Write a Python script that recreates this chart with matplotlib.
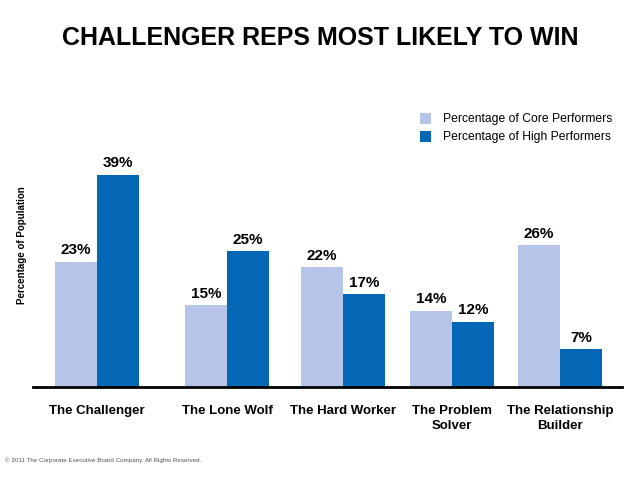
import matplotlib.pyplot as plt
import numpy as np

plt.rcParams['font.family'] = ['Liberation Sans', 'DejaVu Sans']

categories = ['The Challenger', 'The Lone Wolf', 'The Hard Worker', 'The Problem\nSolver', 'The Relationship\nBuilder']
core = [23, 15, 22, 14, 26]
high = [39, 25, 17, 12, 7]

# group centres (pixel-like x units), bar width
centres = [97, 227, 343, 452, 560]
W = 42
LIGHT = '#B6C5E7'
DARK = '#0367B6'

fig = plt.figure(figsize=(6.38, 4.79), dpi=100)
ax = fig.add_axes([33/638, 92/479, 589/638, 245/479])

x = np.array(centres)
ax.bar(x - W/2, core, width=W, color=LIGHT, label='Percentage of Core Performers')
ax.bar(x + W/2, high, width=W, color=DARK, label='Percentage of High Performers')

for xi, c, h in zip(x, core, high):
    ax.text(xi - W/2, c + 0.8, '%d%%' % c, ha='center', va='bottom', fontsize=11, fontweight='bold')
    ax.text(xi + W/2, h + 0.8, '%d%%' % h, ha='center', va='bottom', fontsize=11, fontweight='bold')

ax.set_xlim(33, 622)
ax.set_ylim(0, 45)
for s in ['top', 'right', 'left']:
    ax.spines[s].set_visible(False)
ax.spines['bottom'].set_linewidth(2)
ax.set_yticks([])
ax.set_xticks(x)
ax.set_xticklabels(categories, fontsize=9.5, fontweight='bold', linespacing=1.3, va='top')
ax.tick_params(axis='x', length=0, pad=13)

fig.text(22/638, 1 - 245/479, 'Percentage of Population', rotation=90, ha='center', va='center',
         fontsize=7, fontweight='bold')

fig.text(320/638, 1 - 38/479, 'CHALLENGER REPS MOST LIKELY TO WIN', ha='center', va='center',
         fontsize=18, fontweight='bold')

leg = ax.legend(loc='upper left', bbox_to_anchor=(409/638, 1 - 102/479), bbox_transform=fig.transFigure,
                frameon=False, fontsize=8.7, handlelength=0.95, handleheight=1.0, handletextpad=1.0,
                labelspacing=0.45)

fig.text(5/638, 1 - 460/479, '\u00a9 2011 The Corporate Executive Board Company. All Rights Reserved.',
         ha='left', va='center', fontsize=4.5, color='#555555')

fig.savefig('out.png', dpi=100)
